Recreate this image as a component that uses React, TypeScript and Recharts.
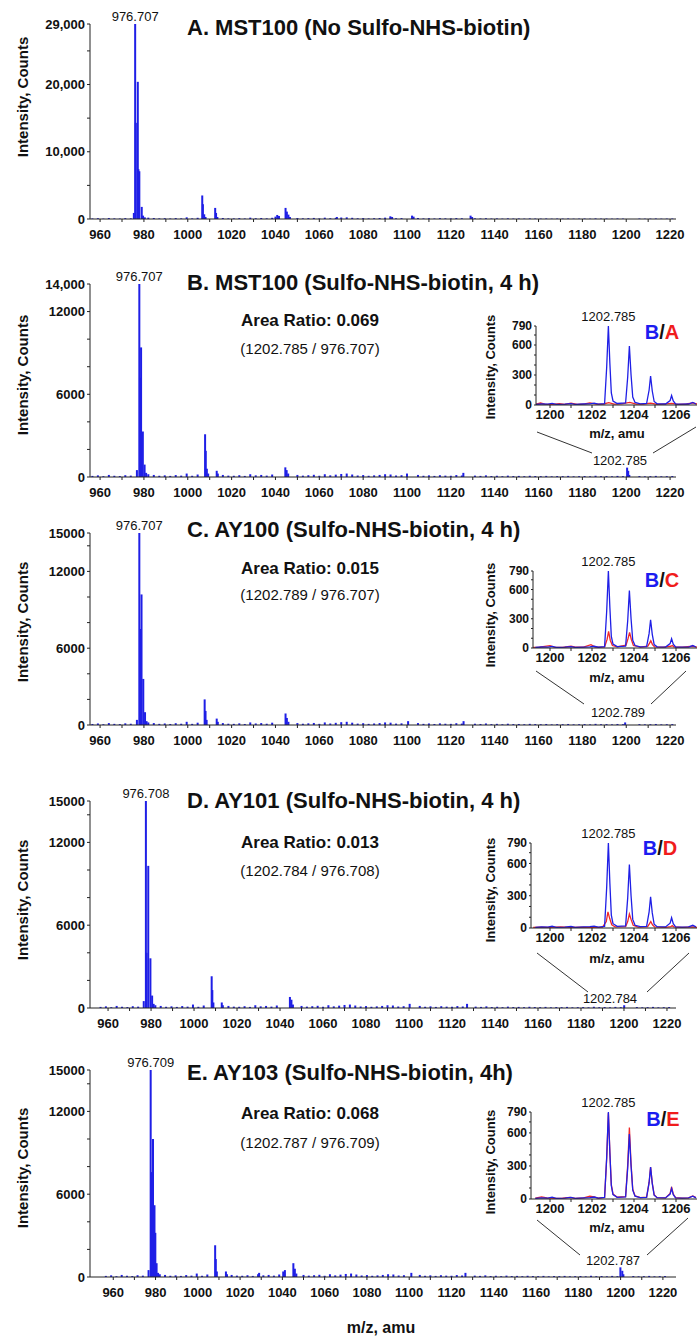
import React from "react";
import { BarChart, Bar, XAxis, YAxis, ReferenceDot, LineChart, Line } from "recharts";

type Pt = [number, number];

const FONT = '"Liberation Sans", Arial, Helvetica, sans-serif';
const BLUE = "#1f1fe6";
const RED = "#f02828";
const INK = "#111";

// ---- axis ticks ----
const mzTicks = [960, 970, 980, 990, 1000, 1010, 1020, 1030, 1040, 1050, 1060, 1070, 1080, 1090, 1100, 1110, 1120, 1130, 1140, 1150, 1160, 1170, 1180, 1190, 1200, 1210, 1220];
const mzLabels = [960, 980, 1000, 1020, 1040, 1060, 1080, 1100, 1120, 1140, 1160, 1180, 1200, 1220];
const yTicksA = [0, 5000, 10000, 15000, 20000, 25000, 29000];
const yLabelsA: Record<number, string> = { 0: "0", 10000: "10,000", 20000: "20,000", 29000: "29,000" };
const yTicksB = [0, 2000, 4000, 6000, 8000, 10000, 12000, 14000];
const yLabelsB: Record<number, string> = { 0: "0", 6000: "6000", 12000: "12000", 14000: "14,000" };
const yTicksCDE = [0, 2000, 4000, 6000, 8000, 10000, 12000, 14000, 15000];
const yLabelsCDE: Record<number, string> = { 0: "0", 6000: "6000", 12000: "12000", 15000: "15000" };
const insetXTicks = [1200, 1201, 1202, 1203, 1204, 1205, 1206];
const insetXLabels = [1200, 1202, 1204, 1206];
const insetYTicks = [0, 100, 200, 300, 400, 500, 600, 700, 790];
const insetYLabels = [0, 300, 600, 790];

// ---- text ----
const panelTitles = [
  "A. MST100 (No Sulfo-NHS-biotin)",
  "B. MST100 (Sulfo-NHS-biotin, 4 h)",
  "C. AY100 (Sulfo-NHS-biotin, 4 h)",
  "D. AY101 (Sulfo-NHS-biotin, 4 h)",
  "E. AY103 (Sulfo-NHS-biotin, 4h)",
];
const apexLabels = ["976.707", "976.707", "976.707", "976.708", "976.709"];
const areaRatios = ["0.069", "0.015", "0.013", "0.068"];
const ratioPairs = ["(1202.785 / 976.707)", "(1202.789 / 976.707)", "(1202.784 / 976.708)", "(1202.787 / 976.709)"];
const zoomLabels = ["1202.785", "1202.789", "1202.784", "1202.787"];
const compareLetters = ["A", "C", "D", "E"];

// ---- baseline noise shared by the survey spectra (m/z, counts) ----
const baselineNoise: Pt[] = [
  [956.5, 80], [959, 120], [961.5, 60], [964, 150], [966.5, 90], [969, 70], [971.5, 130], [974, 100],
  [982, 200], [984.5, 150], [987, 90], [989.5, 120], [992, 80], [994.5, 140], [997, 100], [999.5, 250],
  [1002, 90], [1004.5, 180], [1016, 150], [1018.5, 100], [1021, 90], [1023.5, 130], [1026, 80], [1028.5, 200],
  [1031, 120], [1033.5, 150], [1036, 100], [1038.5, 180], [1050, 150], [1052.5, 100], [1055, 130], [1057.5, 160],
  [1060, 90], [1062.5, 200], [1065, 120], [1067.5, 170], [1070, 220], [1072.5, 250], [1075, 180], [1077.5, 110],
  [1080, 140], [1082.5, 90], [1085, 120], [1087.5, 150], [1090, 200], [1092.5, 180], [1095, 110], [1097.5, 130],
  [1105, 150], [1107.5, 90], [1110, 120], [1112.5, 80], [1115, 130], [1117.5, 100], [1120, 90], [1122.5, 140],
  [1125, 110], [1131, 100], [1133.5, 80], [1136, 120], [1138.5, 70], [1141, 90], [1143.5, 60], [1146, 100],
  [1148.5, 70], [1151, 80], [1153.5, 60], [1156, 90], [1158.5, 70], [1161, 60], [1163.5, 80], [1166, 50],
  [1168.5, 70], [1171, 60], [1173.5, 80], [1176, 50], [1178.5, 60], [1181, 70], [1183.5, 50], [1186, 90],
  [1188.5, 60], [1191, 70], [1193.5, 50], [1196, 80], [1198.5, 60], [1206, 70], [1208.5, 50], [1211, 60],
  [1213.5, 80], [1216, 50], [1218.5, 60], [1221, 70],
];

// ---- survey spectrum peaks ----
const peaksA: Pt[] = [
  [975.4, 900], [976.0, 29000], [976.3, 14300], [977.2, 20400], [977.5, 7400], [977.9, 7100], [979.0, 1800], [979.6, 500], [980.4, 250],
  [1006.6, 3500], [1006.9, 2200], [1007.5, 700], [1008.1, 300],
  [1012.5, 1650], [1012.9, 900], [1013.5, 300],
  [1040.0, 350], [1040.8, 600], [1041.6, 450], [1044.6, 1650], [1045.2, 1100], [1045.9, 650], [1046.6, 300],
  [1068.0, 300], [1092.4, 400], [1093.2, 300], [1102.3, 500], [1103.0, 350], [1129.0, 500], [1129.7, 300],
];
const peaksB: Pt[] = [
  [976.8, 500], [977.9, 14000], [978.2, 7200], [978.4, 5100], [978.7, 9400], [979.5, 3300], [980.3, 900], [981.0, 300],
  [1007.9, 3100], [1008.2, 1900], [1008.7, 600], [1009.3, 250],
  [1013.2, 450], [1013.7, 250],
  [1044.5, 700], [1045.1, 500], [1045.8, 250],
  [1100.0, 250], [1125.7, 300],
  [1200.4, 680], [1200.9, 450], [1201.4, 150],
];
const peaksC: Pt[] = [
  [976.8, 400], [977.9, 15000], [978.2, 7500], [978.9, 10200], [979.7, 3600], [980.5, 1000], [981.2, 300],
  [1007.7, 2000], [1008.1, 1100], [1008.6, 400],
  [1013.2, 500], [1013.7, 250],
  [1044.6, 900], [1045.2, 550], [1045.9, 250],
  [1100.5, 300], [1125.8, 300], [1199.5, 200],
];
const peaksD: Pt[] = [
  [976.6, 500], [977.6, 15000], [977.9, 4000], [978.7, 10300], [979.7, 3600], [980.5, 900], [981.2, 300],
  [1008.2, 2300], [1008.5, 1300], [1009.0, 400],
  [1012.9, 400], [1013.4, 200],
  [1044.6, 800], [1045.3, 600], [1046.0, 250],
  [1100.3, 300], [1127.0, 300], [1200.1, 200],
];
const peaksE: Pt[] = [
  [976.7, 500], [977.7, 15000], [978.0, 7600], [978.8, 10000], [979.5, 5200], [979.9, 3200], [980.5, 1000], [981.2, 300],
  [1008.2, 2300], [1008.5, 1300], [1009.0, 400],
  [1013.3, 400], [1013.8, 200],
  [1029.0, 300], [1040.4, 400], [1041.2, 500],
  [1045.2, 1000], [1045.9, 600], [1046.6, 250],
  [1101.0, 300], [1126.6, 300],
  [1199.9, 700], [1200.8, 450], [1201.3, 200],
];

// ---- zoomed 1202.785 isotope cluster profiles ----
const profileB: Pt[] = [
  [1199.3, 5], [1199.6, 10], [1199.9, 8], [1200.1, 16], [1200.3, 6], [1200.7, 8], [1201.0, 14], [1201.2, 6],
  [1201.6, 10], [1201.9, 12], [1202.1, 18], [1202.3, 8], [1202.6, 14], [1202.7, 380], [1202.78, 790], [1202.85, 420],
  [1202.92, 120], [1203.0, 40], [1203.2, 15], [1203.6, 20], [1203.7, 280], [1203.78, 590], [1203.86, 300], [1203.94, 80],
  [1204.05, 25], [1204.3, 12], [1204.6, 15], [1204.72, 150], [1204.79, 290], [1204.87, 140], [1204.96, 35], [1205.1, 12],
  [1205.5, 10], [1205.72, 45], [1205.79, 95], [1205.87, 40], [1205.98, 10], [1206.3, 8], [1206.6, 10], [1206.8, 25], [1206.95, 10],
];
const profileA: Pt[] = [
  [1199.3, 6], [1199.55, 20], [1199.75, 8], [1200.1, 5], [1200.45, 14], [1200.7, 6], [1201.0, 18], [1201.3, 6],
  [1201.65, 12], [1201.9, 22], [1202.2, 8], [1202.55, 10], [1202.8, 24], [1203.05, 8], [1203.4, 12], [1203.8, 26],
  [1204.1, 8], [1204.45, 10], [1204.8, 18], [1205.1, 6], [1205.5, 12], [1205.8, 16], [1206.1, 6], [1206.5, 10],
  [1206.8, 22], [1207.0, 10],
];
const profileC: Pt[] = [
  [1199.2, 6], [1199.5, 10], [1200.0, 25], [1200.2, 10], [1200.6, 6], [1201.0, 18], [1201.2, 8], [1201.6, 10],
  [1201.95, 35], [1202.15, 10], [1202.6, 12], [1202.72, 90], [1202.79, 170], [1202.87, 80], [1202.97, 25], [1203.2, 12],
  [1203.62, 30], [1203.72, 100], [1203.79, 160], [1203.87, 90], [1203.97, 25], [1204.3, 10], [1204.66, 20], [1204.74, 50],
  [1204.8, 75], [1204.88, 35], [1204.98, 12], [1205.4, 8], [1205.75, 18], [1205.82, 25], [1205.9, 12], [1206.3, 8],
  [1206.8, 18], [1207.0, 8],
];
const profileD: Pt[] = [
  [1199.2, 5], [1199.6, 8], [1200.0, 6], [1200.5, 10], [1201.0, 6], [1201.5, 8], [1202.0, 6], [1202.5, 8],
  [1202.68, 60], [1202.76, 150], [1202.84, 90], [1202.94, 30], [1203.1, 10], [1203.6, 12], [1203.7, 60], [1203.78, 130],
  [1203.86, 80], [1203.96, 25], [1204.2, 8], [1204.65, 12], [1204.74, 40], [1204.8, 60], [1204.88, 30], [1204.98, 10],
  [1205.5, 6], [1205.75, 12], [1205.82, 22], [1205.9, 10], [1206.3, 6], [1206.8, 10], [1207.0, 6],
];
const profileE: Pt[] = [
  [1199.3, 8], [1199.6, 20], [1199.85, 10], [1200.2, 6], [1200.6, 8], [1200.95, 14], [1201.2, 6], [1201.6, 10],
  [1201.9, 25], [1202.1, 20], [1202.3, 8], [1202.6, 14], [1202.7, 370], [1202.78, 780], [1202.85, 430], [1202.92, 130],
  [1203.0, 45], [1203.2, 16], [1203.6, 22], [1203.7, 310], [1203.78, 650], [1203.86, 320], [1203.94, 90], [1204.05, 28],
  [1204.3, 12], [1204.6, 16], [1204.72, 150], [1204.79, 290], [1204.87, 145], [1204.96, 38], [1205.1, 12], [1205.5, 10],
  [1205.72, 50], [1205.79, 110], [1205.87, 45], [1205.98, 12], [1206.3, 8], [1206.6, 10], [1206.8, 28], [1206.95, 12],
];

const toRows = (pts: Pt[]) => pts.map(([mz, c]) => ({ mz, c }));

const tickFont = { fill: INK, fontSize: 13, fontWeight: 700, fontFamily: FONT };

// stick drawn 2px wide, centred on the bar slot Recharts computed
const Stick = (p: any) => {
  if (!p.height || p.height <= 0) return null;
  const cx = p.x + p.width / 2;
  return <rect x={cx - 1} y={p.y} width={2} height={p.height} fill={BLUE} />;
};

function Spectrum(props: {
  top: number; bottom: number; domain: [number, number]; peaks: Pt[];
  yMax: number; yTicks: number[]; yText: Record<number, string>; apex: Pt; apexLabel: string;
}) {
  const { top, bottom, domain, peaks, yMax, yTicks, yText, apex, apexLabel } = props;
  const data = toRows([...baselineNoise, ...peaks].sort((a, b) => a[0] - b[0]));
  const mt = 14;
  return (
    <div style={{ position: "absolute", left: 0, top: top - mt }}>
      <BarChart width={697} height={bottom - top + mt + 30} data={data}
        margin={{ top: mt, right: 21, bottom: 0, left: 0 }}>
        <XAxis type="number" dataKey="mz" domain={domain} allowDataOverflow ticks={mzTicks} interval={0}
          tickFormatter={(v: number) => (mzLabels.includes(v) ? String(v) : "")}
          tickSize={3} tickMargin={8} height={30} stroke="#222" tick={tickFont} />
        <YAxis type="number" domain={[0, yMax]} allowDataOverflow ticks={yTicks} interval={0}
          tickFormatter={(v: number) => yText[v] ?? ""} width={90} tickSize={3} tickMargin={2}
          stroke="#222" tick={tickFont} />
        <Bar dataKey="c" fill={BLUE} shape={Stick} isAnimationActive={false} />
        <ReferenceDot x={apex[0]} y={apex[1]} r={1} fill="none" stroke="none" ifOverflow="visible"
          label={{ value: apexLabel, position: "top", offset: 2, fontSize: 13, fill: INK, fontFamily: FONT }} />
      </BarChart>
    </div>
  );
}

function Inset(props: { left: number; top: number; bottom: number; red: Pt[] }) {
  const { left, top, bottom, red } = props;
  const yw = 40;
  const mt = 16;
  const domainLeft = 1200 - (550 - left) / 21;
  return (
    <div style={{ position: "absolute", left: left - yw, top: top - mt }}>
      <LineChart width={697 - (left - yw)} height={bottom - top + mt + 20}
        margin={{ top: mt, right: 0, bottom: 0, left: 0 }}>
        <XAxis type="number" dataKey="mz" domain={[domainLeft, 1207]} allowDataOverflow ticks={insetXTicks}
          interval={0} tickFormatter={(v: number) => (insetXLabels.includes(v) ? String(v) : "")}
          tickSize={3} tickMargin={2} height={20} stroke="#222"
          tick={{ fill: INK, fontSize: 13, fontWeight: 700, fontFamily: FONT }} />
        <YAxis type="number" domain={[0, 790]} allowDataOverflow ticks={insetYTicks} interval={0}
          tickFormatter={(v: number) => (insetYLabels.includes(v) ? String(v) : "")}
          width={yw} tickSize={2} tickMargin={2} stroke="#222"
          tick={{ fill: INK, fontSize: 12, fontWeight: 700, fontFamily: FONT }} />
        <Line data={toRows(red)} dataKey="c" type="linear" stroke={RED} strokeWidth={1.3} dot={false} isAnimationActive={false} />
        <Line data={toRows(profileB)} dataKey="c" type="linear" stroke={BLUE} strokeWidth={1.3} dot={false} isAnimationActive={false} />
        <ReferenceDot x={1202.785} y={790} r={1} fill="none" stroke="none" ifOverflow="visible"
          label={{ value: "1202.785", position: "top", offset: 4, fontSize: 13, fill: INK, fontFamily: FONT }} />
      </LineChart>
    </div>
  );
}

export default function App() {
  const mainTop = [24, 284, 533, 801, 1070];
  const mainBottom = [219, 477, 725, 1008, 1277];
  const domains: [number, number][] = [[955.4, 1222.7], [955.4, 1222.7], [955.4, 1222.7], [951.6, 1224.2], [949, 1226.2]];
  const peakSets = [peaksA, peaksB, peaksC, peaksD, peaksE];
  const yMaxes = [29000, 14000, 15000, 15000, 15000];
  const yTickSets = [yTicksA, yTicksB, yTicksCDE, yTicksCDE, yTicksCDE];
  const yTextSets = [yLabelsA, yLabelsB, yLabelsCDE, yLabelsCDE, yLabelsCDE];
  const apexes: Pt[] = [[976.0, 29000], [977.9, 14000], [977.9, 15000], [977.6, 15000], [977.7, 15000]];
  const redSets = [profileA, profileC, profileD, profileE];

  const titleY = [27, 282, 529, 800, 1072];
  const intensityY = [97, 375, 622, 900, 1168];
  const ratioY = [320, 568, 842, 1113];
  const pairY = [348, 594, 870, 1142];
  const insetLeft = [536, 533, 531, 531];
  const insetTop = [326, 571, 843, 1112];
  const insetBottom = [405, 648, 928, 1199];
  const insetYLabelY = [367, 615, 890, 1162];
  const compareXY = [[662, 332], [662, 580], [660, 848], [663, 1119]];
  const insetMzY = [433, 677, 958, 1227];
  const callouts = [
    { l: [537, 432, 592, 453], r: [696, 427, 653, 453], t: [620, 460] },
    { l: [536, 671, 584, 704], r: [686, 671, 651, 704], t: [618, 712] },
    { l: [537, 953, 588, 992], r: [689, 953, 647, 992], t: [610, 998] },
    { l: [537, 1220, 580, 1255], r: [688, 1218, 647, 1255], t: [613, 1260] },
  ];

  return (
    <div style={{ position: "absolute", left: 0, top: 0, width: 697, height: 1337, background: "#fff", overflow: "hidden", fontFamily: FONT }}>
      {peakSets.map((p, i) => (
        <Spectrum key={i} top={mainTop[i]} bottom={mainBottom[i]} domain={domains[i]} peaks={p}
          yMax={yMaxes[i]} yTicks={yTickSets[i]} yText={yTextSets[i]} apex={apexes[i]} apexLabel={apexLabels[i]} />
      ))}
      {redSets.map((r, i) => (
        <Inset key={i} left={insetLeft[i]} top={insetTop[i]} bottom={insetBottom[i]} red={r} />
      ))}
      <svg width={697} height={1337} style={{ position: "absolute", left: 0, top: 0, pointerEvents: "none" }}
        fontFamily={FONT}>
        {panelTitles.map((t, i) => (
          <text key={"t" + i} x={187} y={titleY[i]} fontSize={22} fontWeight={700} fill={INK} dominantBaseline="central">{t}</text>
        ))}
        {intensityY.map((y, i) => (
          <text key={"iy" + i} x={22} y={y} fontSize={15} fontWeight={700} fill={INK} textAnchor="middle"
            dominantBaseline="central" transform={`rotate(-90 22 ${y})`}>Intensity, Counts</text>
        ))}
        {areaRatios.map((a, i) => (
          <g key={"ar" + i}>
            <text x={310} y={ratioY[i]} fontSize={17} fontWeight={700} fill={INK} textAnchor="middle" dominantBaseline="central">
              {"Area Ratio: " + a}
            </text>
            <text x={310} y={pairY[i]} fontSize={15} fill={INK} textAnchor="middle" dominantBaseline="central">{ratioPairs[i]}</text>
          </g>
        ))}
        {insetYLabelY.map((y, i) => (
          <text key={"ii" + i} x={490} y={y} fontSize={13} fontWeight={700} fill={INK} textAnchor="middle"
            dominantBaseline="central" transform={`rotate(-90 490 ${y})`}>Intensity, Counts</text>
        ))}
        {insetMzY.map((y, i) => (
          <text key={"im" + i} x={617} y={y} fontSize={13} fontWeight={700} fill={INK} textAnchor="middle" dominantBaseline="central">m/z, amu</text>
        ))}
        {compareXY.map(([x, y], i) => (
          <text key={"c" + i} x={x} y={y} fontSize={20} fontWeight={700} textAnchor="middle" dominantBaseline="central">
            <tspan fill="#1c1cf0">B</tspan><tspan fill={INK}>/</tspan><tspan fill="#f01c1c">{compareLetters[i]}</tspan>
          </text>
        ))}
        {callouts.map((c, i) => (
          <g key={"z" + i}>
            <line x1={c.l[0]} y1={c.l[1]} x2={c.l[2]} y2={c.l[3]} stroke="#333" strokeWidth={1} />
            <line x1={c.r[0]} y1={c.r[1]} x2={c.r[2]} y2={c.r[3]} stroke="#333" strokeWidth={1} />
            <text x={c.t[0]} y={c.t[1]} fontSize={13} fill={INK} textAnchor="middle" dominantBaseline="central">{zoomLabels[i]}</text>
          </g>
        ))}
        <text x={381} y={1327} fontSize={16} fontWeight={700} fill={INK} textAnchor="middle" dominantBaseline="central">m/z, amu</text>
      </svg>
    </div>
  );
}
